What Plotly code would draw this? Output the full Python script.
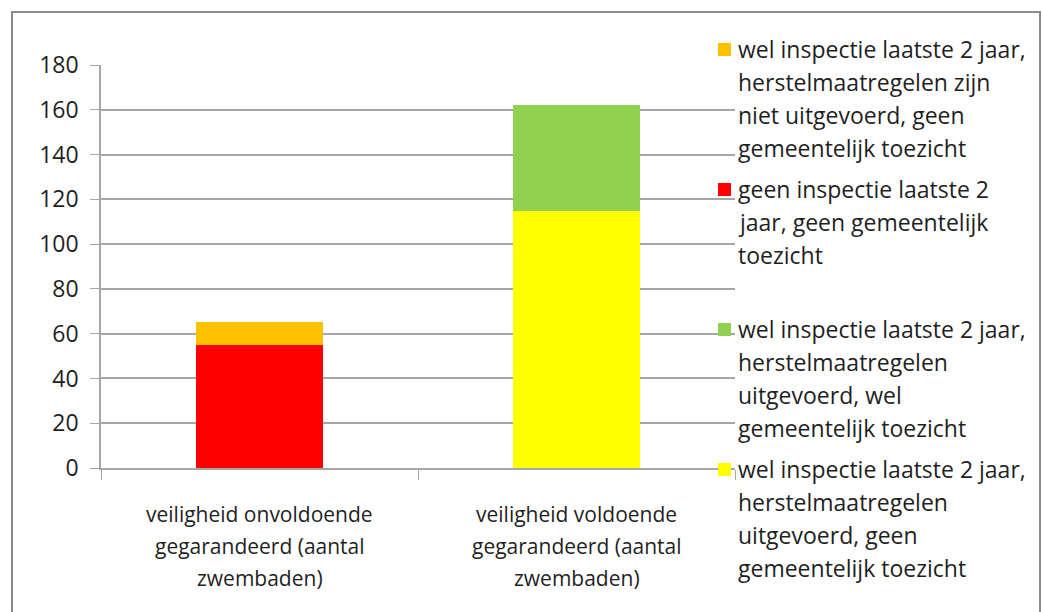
import plotly.graph_objects as go

# ---- data ----
categories = ["veiligheid onvoldoende gegarandeerd (aantal zwembaden)",
              "veiligheid voldoende gegarandeerd (aantal zwembaden)"]
category_lines = [["veiligheid onvoldoende", "gegarandeerd (aantal", "zwembaden)"],
                  ["veiligheid voldoende", "gegarandeerd (aantal", "zwembaden)"]]

series_names = [
    "wel inspectie laatste 2 jaar, herstelmaatregelen uitgevoerd, geen gemeentelijk toezicht",
    "wel inspectie laatste 2 jaar, herstelmaatregelen uitgevoerd, wel gemeentelijk toezicht",
    "geen inspectie laatste 2 jaar, geen gemeentelijk toezicht",
    "wel inspectie laatste 2 jaar, herstelmaatregelen zijn niet uitgevoerd, geen gemeentelijk toezicht",
]
yellow_vals = [0, 115]
green_vals = [0, 47]
red_vals = [55, 0]
orange_vals = [10, 0]
series_values = [yellow_vals, green_vals, red_vals, orange_vals]
series_colors = ["#FFFF00", "#92D050", "#FF0000", "#FFC000"]

# legend (wrapped like the reference), top to bottom
legend_order = [3, 2, 1, 0]
legend_lines = {
    3: ["wel inspectie laatste 2 jaar,", "herstelmaatregelen zijn", "niet uitgevoerd, geen", "gemeentelijk toezicht"],
    2: ["geen inspectie laatste 2", "jaar, geen gemeentelijk", "toezicht"],
    1: ["wel inspectie laatste 2 jaar,", "herstelmaatregelen", "uitgevoerd, wel", "gemeentelijk toezicht"],
    0: ["wel inspectie laatste 2 jaar,", "herstelmaatregelen", "uitgevoerd, geen", "gemeentelijk toezicht"],
}
legend_first_line_y = {3: 49, 2: 189, 1: 329, 0: 469}

y_ticks = [0, 20, 40, 60, 80, 100, 120, 140, 160, 180]

# ---- layout geometry (pixels) ----
W, H = 1043, 612
L, R, T, B = 101, 735, 65, 468
FONT = "Open Sans"
TXT = "#1f1f1f"
GRID = "#a6a6a6"


def px(x):
    return (x - L) / (R - L)


def py(y):
    return (B - y) / (B - T)


fig = go.Figure()
for name, vals, col in zip(series_names, series_values, series_colors):
    fig.add_trace(go.Bar(x=categories, y=vals, name=name, marker_color=col,
                         marker_line_width=0, width=0.4, showlegend=False))

annotations = []
for cat, lines in zip(categories, category_lines):
    for i, line in enumerate(lines):
        annotations.append(dict(x=cat, xref="x", y=py(514 + 32 * i), yref="paper",
                                text=line, showarrow=False, xanchor="center", yanchor="middle",
                                font=dict(family=FONT, size=21, color=TXT)))

shapes = []
for idx in legend_order:
    y0 = legend_first_line_y[idx]
    shapes.append(dict(type="rect", xref="paper", yref="paper",
                       x0=px(718), x1=px(731), y0=py(y0 - 6), y1=py(y0 + 7),
                       fillcolor=series_colors[idx], line_width=0))
    for i, line in enumerate(legend_lines[idx]):
        annotations.append(dict(x=px(736), xref="paper", y=py(y0 + 33 * i), yref="paper",
                                text=line, showarrow=False, xanchor="left", yanchor="middle",
                                font=dict(family=FONT, size=23, color=TXT)))

# outer frame
shapes.append(dict(type="rect", xref="paper", yref="paper",
                   x0=px(12), x1=px(1040), y0=py(625), y1=py(12),
                   line=dict(color="#8c8c8c", width=2), fillcolor="rgba(0,0,0,0)", layer="below"))

fig.update_layout(
    width=W, height=H,
    margin=dict(l=L, r=W - R, t=T, b=H - B, pad=0),
    barmode="stack",
    paper_bgcolor="white", plot_bgcolor="white",
    showlegend=False,
    font=dict(family=FONT, size=20, color=TXT),
    annotations=annotations,
    shapes=shapes,
    xaxis=dict(showticklabels=False, showline=True, linecolor=GRID, linewidth=1.5,
               ticks="outside", tickson="boundaries", ticklen=10, tickcolor=GRID,
               showgrid=False, fixedrange=True),
    yaxis=dict(range=[0, 180], tickvals=y_ticks, showline=True, linecolor=GRID, linewidth=1.5,
               ticks="outside", ticklen=9, tickcolor=GRID, gridcolor=GRID, gridwidth=1.5,
               zeroline=False, tickfont=dict(family=FONT, size=23, color=TXT),
               ticklabelstandoff=7, fixedrange=True),
)

fig.write_html("out.html", config={"displayModeBar": False},
               post_script="document.body.style.margin='0';document.body.style.overflow='hidden';")
